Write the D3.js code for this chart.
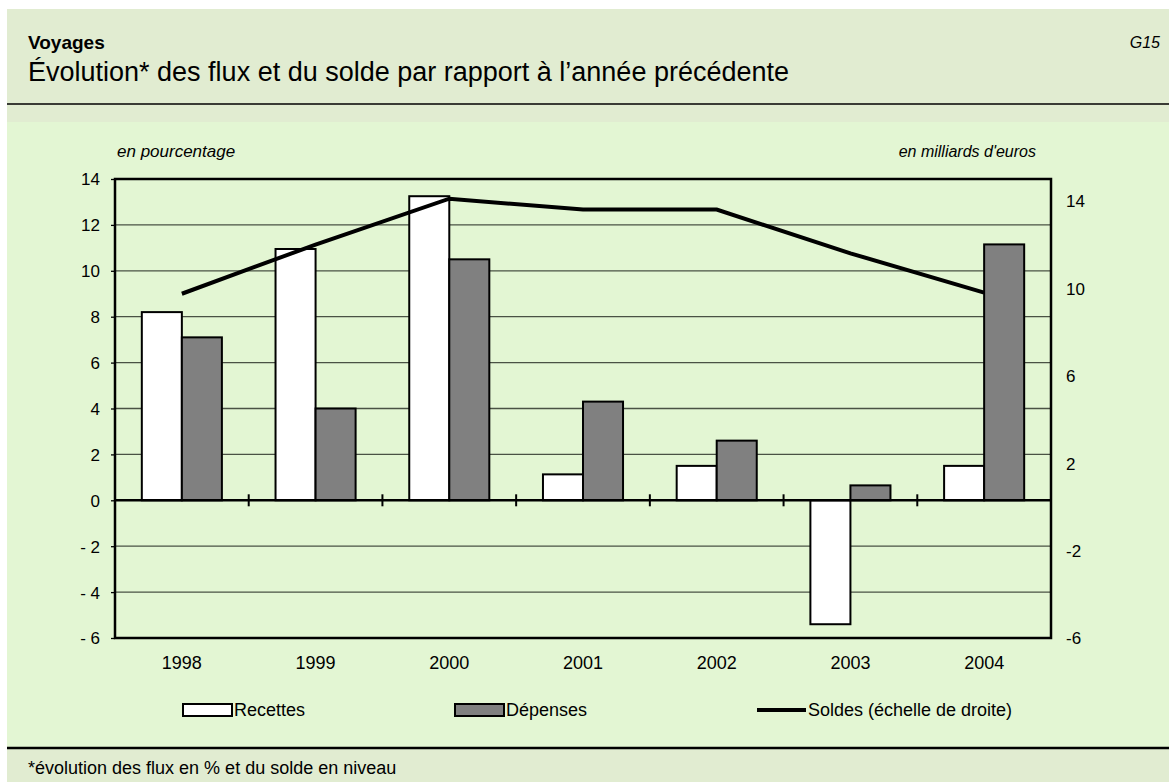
<!DOCTYPE html>
<html>
<head>
<meta charset="utf-8">
<script src="https://cdn.jsdelivr.net/npm/d3@7"></script>
<style>
  body { margin: 0; background: #fff; }
  svg text { font-family: "Liberation Sans", Arial, sans-serif; fill: #000; }
</style>
</head>
<body>
<div id="chart"></div>
<script>
const years = ['1998', '1999', '2000', '2001', '2002', '2003', '2004'];
const recettes = [8.2, 10.95, 13.25, 1.13, 1.5, -5.4, 1.5];
const depenses = [7.1, 4.0, 10.5, 4.3, 2.6, 0.65, 11.15];
const soldes = [9.75, 12.0, 14.1, 13.6, 13.6, 11.6, 9.8];
const leftTicks = [-6, -4, -2, 0, 2, 4, 6, 8, 10, 12, 14];
const rightTicks = [-6, -2, 2, 6, 10, 14];
const legendLabels = ['Recettes', 'Dépenses', 'Soldes (échelle de droite)'];

const W = 1169, H = 782;
const headerBg = '#e1ecd1';
const chartBg = '#e3f6d3';
const plot = { left: 115, right: 1051, top: 179, bottom: 638 };

const svg = d3.select('#chart').append('svg')
  .attr('width', W)
  .attr('height', H);

// backgrounds
svg.append('rect').attr('x', 7).attr('y', 9).attr('width', W - 7).attr('height', 113).attr('fill', headerBg);
svg.append('rect').attr('x', 7).attr('y', 122).attr('width', W - 7).attr('height', 626).attr('fill', chartBg);
svg.append('rect').attr('x', 7).attr('y', 749).attr('width', W - 7).attr('height', H - 749).attr('fill', headerBg);
svg.append('line').attr('x1', 7).attr('x2', W).attr('y1', 104).attr('y2', 104)
  .attr('stroke', '#000').attr('stroke-width', 1.5);
svg.append('line').attr('x1', 7).attr('x2', W).attr('y1', 748).attr('y2', 748)
  .attr('stroke', '#000').attr('stroke-width', 2.5);

// titles
svg.append('text').attr('x', 28).attr('y', 49).text('Voyages')
  .style('font-size', '19px').style('font-weight', 'bold');
svg.append('text').attr('x', 28).attr('y', 81)
  .text('Évolution* des flux et du solde par rapport à l’année précédente')
  .style('font-size', '27px');
svg.append('text').attr('x', 1160).attr('y', 48).attr('text-anchor', 'end').text('G15')
  .style('font-size', '16px').style('font-style', 'italic');
svg.append('text').attr('x', 28).attr('y', 774)
  .text('*évolution des flux en % et du solde en niveau')
  .style('font-size', '18px');

svg.append('text').attr('x', 117).attr('y', 157).text('en pourcentage')
  .style('font-size', '17px').style('font-style', 'italic');
svg.append('text').attr('x', 1036).attr('y', 157).attr('text-anchor', 'end').text("en milliards d'euros")
  .style('font-size', '16px').style('font-style', 'italic');

// scales
const x = d3.scaleBand().domain(years).range([plot.left, plot.right]);
const xSub = d3.scaleBand().domain(['rec', 'dep']).range([0, x.bandwidth()]).paddingOuter(0.67);
const yL = d3.scaleLinear().domain([-6, 14]).range([plot.bottom, plot.top]);
const yR = d3.scaleLinear().domain([-6, 15]).range([plot.bottom, plot.top]);

// gridlines
svg.append('g').selectAll('line')
  .data(leftTicks.filter(d => d !== 0 && d !== -6 && d !== 14))
  .join('line')
  .attr('x1', plot.left).attr('x2', plot.right)
  .attr('y1', d => yL(d)).attr('y2', d => yL(d))
  .attr('stroke', '#4a5244').attr('stroke-width', 1.3);

// left axis
const fmtL = d => d < 0 ? '- ' + Math.abs(d) : String(d);
const gL = svg.append('g').attr('transform', `translate(${plot.left},0)`)
  .call(d3.axisLeft(yL).tickValues(leftTicks).tickSize(4).tickPadding(11).tickFormat(fmtL));
gL.select('.domain').remove();
gL.selectAll('.tick line').attr('stroke', '#000').attr('stroke-width', 1.3);
gL.selectAll('.tick text').style('font-size', '17px').attr('dy', '0.35em');

// right axis
const gR = svg.append('g').attr('transform', `translate(${plot.right},0)`)
  .call(d3.axisRight(yR).tickValues(rightTicks).tickSize(0).tickPadding(15).tickFormat(d => String(d)));
gR.select('.domain').remove();
gR.selectAll('.tick text').style('font-size', '17px').attr('dy', '0.35em');

// bottom labels
const gB = svg.append('g').attr('transform', `translate(0,${plot.bottom})`)
  .call(d3.axisBottom(x).tickSize(0).tickPadding(18));
gB.select('.domain').remove();
gB.selectAll('.tick text').style('font-size', '18px');

// bars
const bars = svg.append('g');
years.forEach((yr, i) => {
  [['rec', recettes[i], '#ffffff'], ['dep', depenses[i], '#808080']].forEach(([k, v, c]) => {
    bars.append('rect')
      .attr('x', x(yr) + xSub(k))
      .attr('y', yL(Math.max(0, v)))
      .attr('width', xSub.bandwidth())
      .attr('height', Math.abs(yL(v) - yL(0)))
      .attr('fill', c)
      .attr('stroke', '#000')
      .attr('stroke-width', 2);
  });
});

// frame
svg.append('rect')
  .attr('x', plot.left).attr('y', plot.top)
  .attr('width', plot.right - plot.left).attr('height', plot.bottom - plot.top)
  .attr('fill', 'none').attr('stroke', '#000').attr('stroke-width', 2.5);

// zero line and category ticks
svg.append('line').attr('x1', plot.left).attr('x2', plot.right)
  .attr('y1', yL(0)).attr('y2', yL(0)).attr('stroke', '#000').attr('stroke-width', 2.5);
svg.append('g').selectAll('line')
  .data(years.slice(1))
  .join('line')
  .attr('x1', d => x(d)).attr('x2', d => x(d))
  .attr('y1', yL(0) - 6).attr('y2', yL(0) + 6)
  .attr('stroke', '#000').attr('stroke-width', 2);

// soldes line
const line = d3.line()
  .x((d, i) => x(years[i]) + x.bandwidth() / 2)
  .y(d => yR(d));
svg.append('path').datum(soldes)
  .attr('d', line)
  .attr('fill', 'none').attr('stroke', '#000').attr('stroke-width', 4);

// legend
const legendX = [183, 455, 757];
const lg = svg.append('g');
legendLabels.forEach((lab, i) => {
  if (i < 2) {
    lg.append('rect').attr('x', legendX[i]).attr('y', 704).attr('width', 49).attr('height', 12)
      .attr('fill', i === 0 ? '#fff' : '#808080').attr('stroke', '#000').attr('stroke-width', 2);
  } else {
    lg.append('line').attr('x1', legendX[i]).attr('x2', legendX[i] + 49)
      .attr('y1', 710).attr('y2', 710).attr('stroke', '#000').attr('stroke-width', 4);
  }
  lg.append('text').attr('x', legendX[i] + 51).attr('y', 716).text(lab).style('font-size', '18px');
});
</script>
</body>
</html>
